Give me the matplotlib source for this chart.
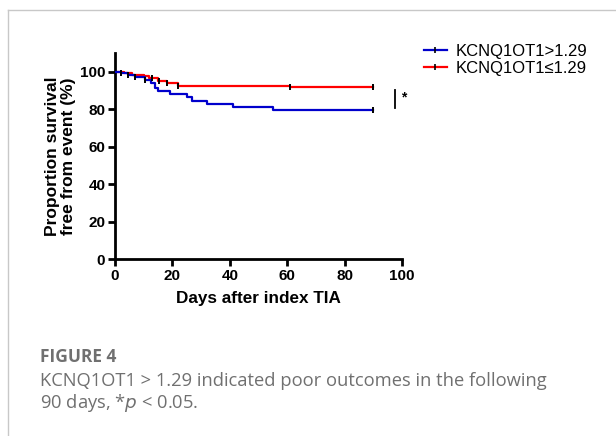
import matplotlib
matplotlib.use("Agg")
import matplotlib.pyplot as plt
import numpy as np
from matplotlib.lines import Line2D

# ---- data ----
high_label = "KCNQ1OT1>1.29"
low_label = "KCNQ1OT1\u22641.29"

high_times = [0, 2, 4.5, 7, 10.5, 12.5, 14, 15, 19, 25, 27, 32, 41, 55, 90]
high_surv = [100, 99.2, 98.3, 97.3, 95.8, 93.8, 91.5, 89.6, 88.0, 86.3, 84.5, 82.9, 81.2, 79.6, 79.6]
high_censor = [2, 4.5, 7, 10.5, 90]

low_times = [0, 3, 6, 10, 12, 15, 18, 22, 61, 90]
low_surv = [100, 99.2, 98.4, 97.5, 96.4, 95.3, 94.0, 92.6, 92.0, 92.0]
low_censor = [13, 15.3, 18, 22, 61, 90]

x_ticks = [0, 20, 40, 60, 80, 100]
y_ticks = [0, 20, 40, 60, 80, 100]

plt.rcParams['font.family'] = ['Liberation Sans', 'DejaVu Sans']

fig = plt.figure(figsize=(6.16, 4.36), dpi=100)

# card border
fig.add_artist(Line2D([8/616, 8/616], [0, 1-10/436], transform=fig.transFigure, color='#c8c8c8', lw=1.0))
fig.add_artist(Line2D([8/616, 1], [1-10/436, 1-10/436], transform=fig.transFigure, color='#c8c8c8', lw=1.0))

ax = fig.add_axes([115/616, 1-259/436, (402-115)/616, (259-53)/436])

def surv_at(times, surv, t):
    idx = np.searchsorted(times, t, side='right') - 1
    return surv[idx]

ax.step(high_times, high_surv, where='post', color='#0000cc', lw=1.6, zorder=3)
ax.step(low_times, low_surv, where='post', color='#ff0000', lw=1.6, zorder=2)
ax.plot(high_censor, [surv_at(high_times, high_surv, t) for t in high_censor], ls='none',
        marker='|', color='black', ms=5, mew=1.4, zorder=4)
ax.plot(low_censor, [surv_at(low_times, low_surv, t) for t in low_censor], ls='none',
        marker='|', color='black', ms=5, mew=1.4, zorder=4)

ax.set_xlim(0, 100)
ax.set_ylim(0, 110)
ax.set_xticks(x_ticks)
ax.set_yticks(y_ticks)
for s in ['top', 'right']:
    ax.spines[s].set_visible(False)
for s in ['left', 'bottom']:
    ax.spines[s].set_linewidth(2.0)
ax.tick_params(width=2.0, length=5, direction='out', labelsize=11, pad=2)
for lab in ax.get_xticklabels() + ax.get_yticklabels():
    lab.set_fontweight('bold')
ax.set_xlabel("Days after index TIA", fontsize=12.3, fontweight='bold', labelpad=6)
ax.set_ylabel("Proportion survival\nfree from event (%)", fontsize=12.5, fontweight='bold', labelpad=3, linespacing=1.05)

# significance annotation
ax.plot([97.5, 97.5], [80.5, 90.5], color='black', lw=1.3, clip_on=False)
ax.text(99.5, 86.5, "*", fontsize=10, fontweight='bold', va='center', ha='left')

# legend
handles = [Line2D([0], [0], color='#0000cc', lw=1.6, marker='|', mec='black', ms=5, mew=1.2),
           Line2D([0], [0], color='#ff0000', lw=1.6, marker='|', mec='black', ms=5, mew=1.2)]
fig.legend(handles, [high_label, low_label], loc='upper left', bbox_to_anchor=(424/616, 1-44/436),
           frameon=False, fontsize=12, handlelength=1.35, handletextpad=0.55, labelspacing=0.12,
           borderaxespad=0, borderpad=0)

# caption
fig.text(40/616, 1-357/436, "FIGURE 4", fontsize=12.5, fontweight='bold', color='#707070',
         family=['Open Sans', 'DejaVu Sans'], va='center')
fig.text(40/616, 1-381/436, "KCNQ1OT1 > 1.29 indicated poor outcomes in the following",
         fontsize=13.2, color='#707070', family=['Open Sans', 'DejaVu Sans'], va='center')
fig.text(40/616, 1-403/436, "90 days, *$\\it{p}$ < 0.05.",
         fontsize=13.2, color='#707070', family=['Open Sans', 'DejaVu Sans'], va='center')

fig.savefig("out.png", dpi=100)
